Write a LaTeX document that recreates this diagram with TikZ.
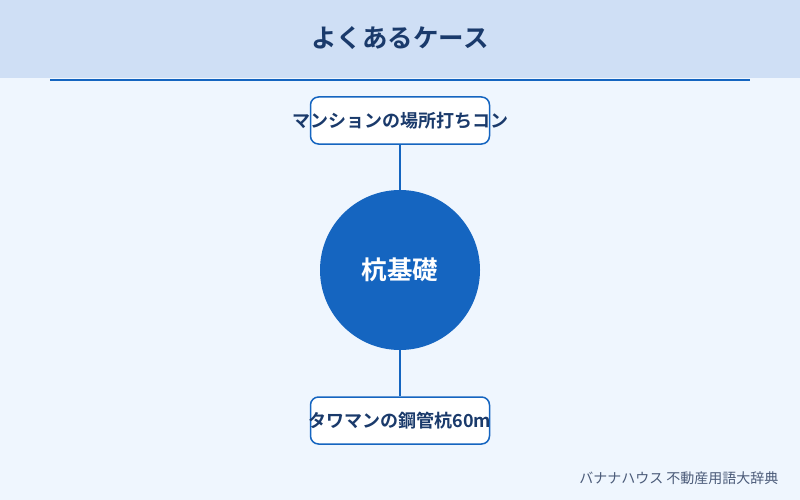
\documentclass[tikz,border=0pt]{standalone}
\usepackage{fontspec}
\newfontfamily\cjk{Noto Sans CJK JP}
\newfontfamily\cjkbold{Noto Sans CJK JP Bold}
\definecolor{fondo}{HTML}{EFF6FE}
\definecolor{cabecera}{HTML}{CFDFF5}
\definecolor{azul}{HTML}{1565C0}
\definecolor{marino}{HTML}{1A3A6B}
\definecolor{gris}{HTML}{4A5A78}
\tikzset{
	caja/.style={draw=azul, line width=1.5pt, fill=white, rounded corners=8pt,
		minimum width=179pt, minimum height=47pt, inner sep=0pt},
	textocaja/.style={text=marino, font=\cjkbold\fontsize{18}{21}\selectfont, inner sep=0pt},
	enlace/.style={azul, line width=1.5pt}
}
\begin{document}
\begin{tikzpicture}[x=1pt, y=-1pt]
				\fill[fondo] (0,0) rectangle (800,500);
				\fill[cabecera] (0,0) rectangle (800,78);
				\draw[azul, line width=2pt] (50,80.5) to (750,80.5);

				\node[text=marino, font=\cjkbold\fontsize{25.5}{30}\selectfont] (titulo) at (400,38) {よくあるケース};

				\node[circle, fill=azul, minimum size=160pt, inner sep=0pt] (pilote) at (400,270) {};
				\node[text=white, font=\cjkbold\fontsize{25.5}{30}\selectfont] at (pilote) {杭基礎};

				\node[caja] (arriba) at (400,120.5) {};
				\node[textocaja] at (arriba) {マンションの場所打ちコン};
				\node[caja] (abajo) at (400,420.5) {};
				\node[textocaja] at (abajo) {タワマンの鋼管杭60m};

				\draw[enlace] (arriba.south) to (pilote.north);
				\draw[enlace] (pilote.south) to (abajo.north);

				\node[anchor=east, text=gris, font=\cjk\fontsize{14}{16}\selectfont] (pie) at (782,478) {バナナハウス 不動産用語大辞典};
			\end{tikzpicture}
\end{document}
